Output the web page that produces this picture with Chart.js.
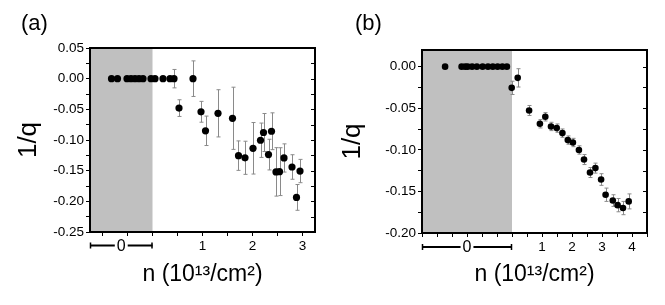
<!DOCTYPE html>
<html><head><meta charset="utf-8">
<script src="https://cdn.jsdelivr.net/npm/chart.js@4/dist/chart.umd.min.js"></script>
<style>
html,body{margin:0;padding:0;background:#fff;}
#wrap{position:relative;width:665px;height:305px;overflow:hidden;background:#fff;}
canvas{position:absolute;top:0;}
</style></head><body>
<div id="wrap">
<canvas id="ca" style="left:0px"></canvas>
<canvas id="cb" style="left:333px"></canvas>
</div>
<script>
// ---------- text ----------
const panelLabels = ['(a)', '(b)'];
const yTitle = '1/q';
const xTitle = 'n (10¹³/cm²)';
const bracketLabel = '0';

// ---------- panel (a) data ----------
const aX   = [-0.82, -0.70, -0.51, -0.43, -0.35, -0.27, -0.19, -0.03, 0.05, 0.21, 0.35, 0.43, 0.81,
              0.53, 0.97, 1.06, 1.31, 1.60, 1.72, 1.85, 2.01, 2.16, 2.22, 2.32, 2.38, 2.47, 2.54, 2.63, 2.79, 2.88, 2.95];
const aY   = [0, 0, 0, 0, 0, 0, 0, 0, 0, 0, 0, 0, 0,
              -0.048, -0.054, -0.085, -0.0565, -0.0646, -0.1255, -0.129, -0.1135, -0.1004, -0.0878, -0.1238, -0.0857, -0.152, -0.1516, -0.1293, -0.144, -0.1936, -0.1506];
const aErr = [0, 0, 0, 0, 0, 0, 0, 0, 0, 0, 0, 0.015, 0.029,
              0.0136, 0.017, 0.024, 0.0385, 0.0507, 0.024, 0.027, 0.042, 0.028, 0.031, 0.025, 0.03, 0.0395, 0.039, 0.023, 0.02, 0.021, 0.019];
const aXTicks = [-1, -0.5, 0, 0.5, 1, 1.5, 2, 2.5, 3];
const aXLabels = [1, 2, 3];
const aYTicks = [-0.25, -0.225, -0.2, -0.175, -0.15, -0.125, -0.1, -0.075, -0.05, -0.025, 0, 0.025, 0.05];
const aYLabels = [-0.25, -0.2, -0.15, -0.1, -0.05, 0, 0.05];
const aXRange = [-1.25, 3.25];
const aYRange = [-0.25, 0.05];

// ---------- panel (b) data ----------
const bX   = [-2.23, -1.68, -1.56, -1.48, -1.33, -1.17, -0.98, -0.80, -0.64, -0.48, -0.32, -0.17,
              -0.01, 0.19, 0.57, 0.93, 1.11, 1.30, 1.49, 1.68, 1.86, 2.03, 2.23, 2.40, 2.60, 2.78, 2.97, 3.12, 3.36, 3.52, 3.70, 3.89];
const bY   = [0, 0, 0, 0, 0, 0, 0, 0, 0, 0, 0, 0,
              -0.0255, -0.0135, -0.0527, -0.0687, -0.0603, -0.0719, -0.0739, -0.0799, -0.0883, -0.0912, -0.1002, -0.1117, -0.1273, -0.122, -0.1357, -0.154, -0.161, -0.1665, -0.170, -0.162];
const bErr = [0, 0, 0, 0, 0, 0, 0, 0, 0, 0, 0, 0,
              0.008, 0.011, 0.006, 0.005, 0.005, 0.005, 0.005, 0.005, 0.005, 0.005, 0.005, 0.006, 0.006, 0.006, 0.007, 0.008, 0.007, 0.008, 0.008, 0.009];
const bXTicks = [-3, -2.5, -2, -1.5, -1, -0.5, 0, 0.5, 1, 1.5, 2, 2.5, 3, 3.5, 4, 4.5];
const bXLabels = [1, 2, 3, 4];
const bYTicks = [-0.2, -0.175, -0.15, -0.125, -0.1, -0.075, -0.05, -0.025, 0];
const bYLabels = [-0.2, -0.15, -0.1, -0.05, 0];
const bXRange = [-3, 4.5];
const bYRange = [-0.2, 0.02];

const FONT = '"Liberation Sans", Arial, sans-serif';
const has = (arr, v) => arr.some(a => Math.abs(a - v) < 1e-9);

const deco = {
  id: 'deco',
  beforeDatasetsDraw(chart, args, o) {
    const {ctx, chartArea: a, scales: {x, y}} = chart;
    ctx.save();
    const x0 = x.getPixelForValue(0);
    ctx.fillStyle = '#c0c0c0';
    ctx.fillRect(a.left, a.top, x0 - a.left, a.bottom - a.top);
    ctx.strokeStyle = '#8a8a8a';
    ctx.lineWidth = 1;
    o.xs.forEach((xv, i) => {
      const e = o.err[i];
      if (!e) return;
      const px = Math.round(x.getPixelForValue(xv)) + 0.5;
      const y1 = y.getPixelForValue(o.ys[i] + e);
      const y2 = y.getPixelForValue(o.ys[i] - e);
      ctx.beginPath();
      ctx.moveTo(px, y1); ctx.lineTo(px, y2);
      ctx.moveTo(px - 2, y1); ctx.lineTo(px + 2, y1);
      ctx.moveTo(px - 2, y2); ctx.lineTo(px + 2, y2);
      ctx.stroke();
    });
    ctx.restore();
  },
  afterDraw(chart, args, o) {
    const {ctx, chartArea: a, scales: {x, y}} = chart;
    ctx.save();
    ctx.strokeStyle = '#000';
    ctx.lineWidth = 2;
    ctx.strokeRect(a.left, a.top, a.right - a.left, a.bottom - a.top);
    ctx.lineWidth = 1;
    ctx.beginPath();
    y.ticks.forEach(t => {
      const py = Math.round(y.getPixelForValue(t.value)) + 0.5;
      ctx.moveTo(a.right, py); ctx.lineTo(a.right - 4, py);
    });
    ctx.stroke();
    const x0 = x.getPixelForValue(0);
    const by = a.bottom + o.bracketDy;
    const cx = (a.left + x0) / 2;
    ctx.font = '16px ' + FONT;
    const tw = ctx.measureText(bracketLabel).width;
    ctx.lineWidth = 2;
    ctx.beginPath();
    ctx.moveTo(a.left, by); ctx.lineTo(cx - tw / 2 - 2, by);
    ctx.moveTo(cx + tw / 2 + 2, by); ctx.lineTo(x0, by);
    ctx.stroke();
    ctx.lineWidth = 1.5;
    ctx.beginPath();
    ctx.moveTo(a.left + 0.5, by - 3); ctx.lineTo(a.left + 0.5, by + 3);
    ctx.moveTo(x0 - 0.5, by - 3); ctx.lineTo(x0 - 0.5, by + 3);
    ctx.stroke();
    ctx.fillStyle = '#000';
    ctx.textAlign = 'center';
    ctx.textBaseline = 'middle';
    ctx.fillText(bracketLabel, cx, by + 1);
    ctx.font = '23px ' + FONT;
    ctx.textBaseline = 'alphabetic';
    ctx.fillText(xTitle, (a.left + a.right) / 2, 281);
    ctx.save();
    ctx.font = '26px ' + FONT;
    ctx.translate(o.yTitleX, (a.top + a.bottom) / 2);
    ctx.rotate(-Math.PI / 2);
    ctx.textBaseline = 'middle';
    ctx.fillText(yTitle, 0, 0);
    ctx.restore();
    ctx.font = '22px ' + FONT;
    ctx.textAlign = 'left';
    ctx.textBaseline = 'alphabetic';
    ctx.fillText(o.label, o.labelX, 30);
    ctx.restore();
  }
};

function makeChart(id, xs, ys, err, xr, yr, xTicks, xLabels, yTicks, yLabels, pad, yw, xh, extra, radius) {
  const canvas = document.getElementById(id);
  canvas.width = 332; canvas.height = 305;
  return new Chart(canvas, {
    type: 'scatter',
    data: {datasets: [{
      data: xs.map((v, i) => ({x: v, y: ys[i]})),
      backgroundColor: '#000', borderColor: '#000',
      pointRadius: radius, pointHoverRadius: radius, borderWidth: 0
    }]},
    options: {
      responsive: false, animation: false, devicePixelRatio: 1,
      layout: {padding: pad},
      plugins: {legend: {display: false}, tooltip: {enabled: false},
        deco: Object.assign({xs, ys, err}, extra)},
      scales: {
        x: {
          type: 'linear', min: xr[0], max: xr[1],
          afterBuildTicks: s => { s.ticks = xTicks.map(v => ({value: v})); },
          afterFit: s => { s.height = xh; },
          border: {display: false},
          grid: {display: true, drawOnChartArea: false, drawTicks: true, tickLength: 4, tickColor: '#000', tickWidth: 1},
          ticks: {autoSkip: false, maxRotation: 0, padding: 2, color: '#000', font: {family: FONT, size: 13.5},
            callback: v => has(xLabels, v) ? String(Math.round(v)) : ''}
        },
        y: {
          type: 'linear', min: yr[0], max: yr[1],
          afterBuildTicks: s => { s.ticks = yTicks.map(v => ({value: v})); },
          afterFit: s => { s.width = yw; },
          border: {display: false},
          grid: {display: true, drawOnChartArea: false, drawTicks: true, tickLength: 4, tickColor: '#000', tickWidth: 1},
          ticks: {autoSkip: false, padding: 2, color: '#000', font: {family: FONT, size: 13.5},
            callback: v => has(yLabels, v) ? (Math.abs(v) < 1e-9 ? '0.00' : v.toFixed(2)) : ''}
        }
      }
    },
    plugins: [deco]
  });
}

makeChart('ca', aX, aY, aErr, aXRange, aYRange, aXTicks, aXLabels, aYTicks, aYLabels,
  {left: 0, right: 17, top: 48, bottom: 0}, 90, 73,
  {bracketDy: 13.5, yTitleX: 29, label: panelLabels[0], labelX: 21}, 3.6);
makeChart('cb', bX, bY, bErr, bXRange, bYRange, bXTicks, bXLabels, bYTicks, bYLabels,
  {left: 0, right: 18, top: 50, bottom: 0}, 89, 72,
  {bracketDy: 14, yTitleX: 20, label: panelLabels[1], labelX: 22}, 3.3);
</script>
</body></html>
